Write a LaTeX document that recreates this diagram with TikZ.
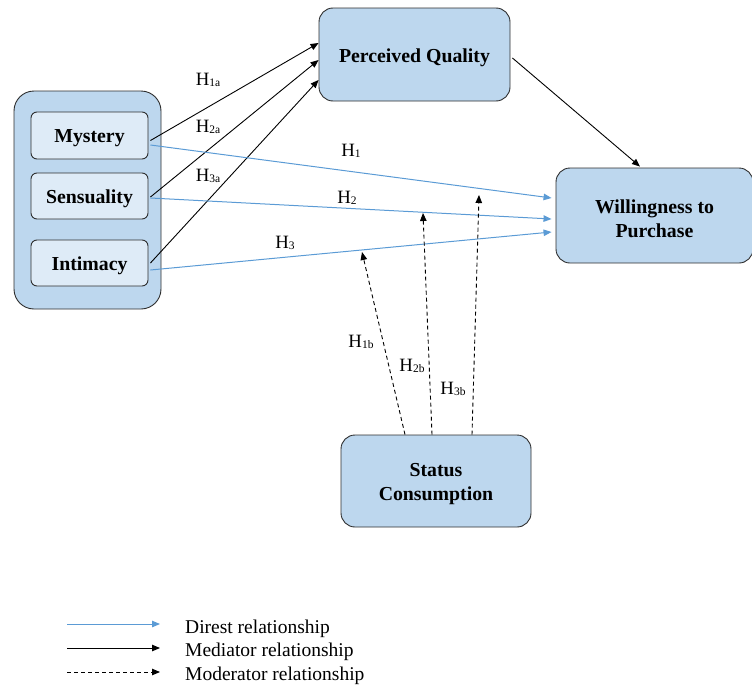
\documentclass[tikz,border=0pt]{standalone}
\usepackage{fontspec}
\setmainfont{Liberation Serif}
\usetikzlibrary{arrows.meta,calc}
\definecolor{boxblue}{HTML}{BDD7EE}
\definecolor{innerblue}{HTML}{DEEBF7}
\definecolor{linkblue}{HTML}{5B9BD5}
\definecolor{edgegray}{HTML}{2E2E2E}
% hypothesis label: H with a small lowered index
\newcommand{\hyp}[1]{H\raisebox{-1.5pt}{\fontsize{11.5}{11.5}\selectfont #1}}
\begin{document}
\begin{tikzpicture}[x=1pt,y=-1pt,
  tip/.style={-{Triangle[length=8pt,width=6.5pt]}},
  boxtext/.style={inner sep=0pt,align=center,yshift=-3pt,
    font=\fontsize{19.8}{24}\selectfont\bfseries},
  construct/.style={draw=edgegray,line width=0.9pt,fill=boxblue,rounded corners=14pt,inner sep=0pt},
  dimension/.style={draw=edgegray,line width=0.9pt,fill=innerblue,rounded corners=6pt,
    inner sep=0pt,minimum width=117pt,minimum height=46pt},
  direct/.style={tip,draw=linkblue,line width=1pt},
  mediator/.style={tip,draw=black,line width=0.9pt},
  moderator/.style={tip,draw=black,line width=0.9pt,dash pattern=on 4pt off 3pt},
  hlabel/.style={inner sep=0pt,font=\fontsize{18.8}{20}\selectfont},
  legendtext/.style={inner sep=0pt,anchor=west,font=\fontsize{19.5}{21}\selectfont}]
\useasboundingbox (0,0) rectangle (752,688);

% grouping box around the three dimensions
\node[draw=edgegray,line width=0.9pt,fill=boxblue,rounded corners=20pt,
  minimum width=147pt,minimum height=218pt] (group) at (87.5,200) {};
\node[dimension,minimum height=47pt,label={[boxtext]center:Mystery}] (myst) at (89.5,135.5) {};
\node[dimension,label={[boxtext]center:Sensuality}] (sens) at (89.5,196) {};
\node[dimension,label={[boxtext]center:Intimacy}] (inti) at (89.5,263) {};

% constructs
\node[construct,minimum width=191pt,minimum height=93pt,
  label={[boxtext]center:Perceived Quality}] (pq) at (414.5,54.5) {};
\node[construct,minimum width=197pt,minimum height=95pt,
  label={[boxtext]center:Willingness to\\Purchase}] (wtp) at (654.5,215.5) {};
\node[construct,minimum width=190pt,minimum height=92pt,
  label={[boxtext]center:Status\\Consumption}] (sc) at (436,481) {};

% mediator paths
\draw[mediator] ($(myst.east)+(2,5)$) -- ($(pq.west)+(0,-11.5)$);
\draw[mediator] ($(sens.east)+(2,1)$) -- ($(pq.west)+(0,5.5)$);
\draw[mediator] ($(inti.east)+(2,0)$) -- ($(pq.west)+(0,25.5)$);
\draw[mediator] ($(pq.east)+(2,3.5)$) -- ($(wtp.north)+(-14.5,-1)$);

% direct paths
\draw[direct] ($(myst.east)+(2,9.5)$) -- ($(wtp.west)+(-4,-17.5)$);
\draw[direct] ($(sens.east)+(2,2)$) -- ($(wtp.west)+(-4,3.5)$);
\draw[direct] ($(inti.east)+(2,7)$) -- ($(wtp.west)+(-4,16.5)$);

% moderator paths
\coordinate (mod1) at (362,252);
\coordinate (mod2) at (423,213);
\coordinate (mod3) at (479,195);
\draw[moderator] ($(sc.north)+(-31,0)$) -- (mod1);
\draw[moderator] ($(sc.north)+(-4,0)$) -- (mod2);
\draw[moderator] ($(sc.north)+(36,0)$) -- (mod3);

% hypothesis labels
\node[hlabel] (l1a) at (208,80) {\hyp{1a}};
\node[hlabel] (l2a) at (208,127) {\hyp{2a}};
\node[hlabel] (l3a) at (208,176) {\hyp{3a}};
\node[hlabel] (l1) at (351,151) {\hyp{1}};
\node[hlabel] (l2) at (347,198) {\hyp{2}};
\node[hlabel] (l3) at (285,243) {\hyp{3}};
\node[hlabel] (l1b) at (361,342) {\hyp{1b}};
\node[hlabel] (l2b) at (412,366) {\hyp{2b}};
\node[hlabel] (l3b) at (453,389) {\hyp{3b}};

% legend
\coordinate (lga) at (67,624);  \coordinate (lgb) at (160,624);
\coordinate (lma) at (67,648);  \coordinate (lmb) at (160,648);
\coordinate (loa) at (67,672);  \coordinate (lob) at (160,672);
\draw[direct] (lga) -- (lgb);
\draw[mediator] (lma) -- (lmb);
\draw[moderator] (loa) -- (lob);
\node[legendtext] (tg) at (185,629) {Direst relationship};
\node[legendtext] (tm) at (185,652) {Mediator relationship};
\node[legendtext] (to) at (185,676) {Moderator relationship};
\end{tikzpicture}
\end{document}
